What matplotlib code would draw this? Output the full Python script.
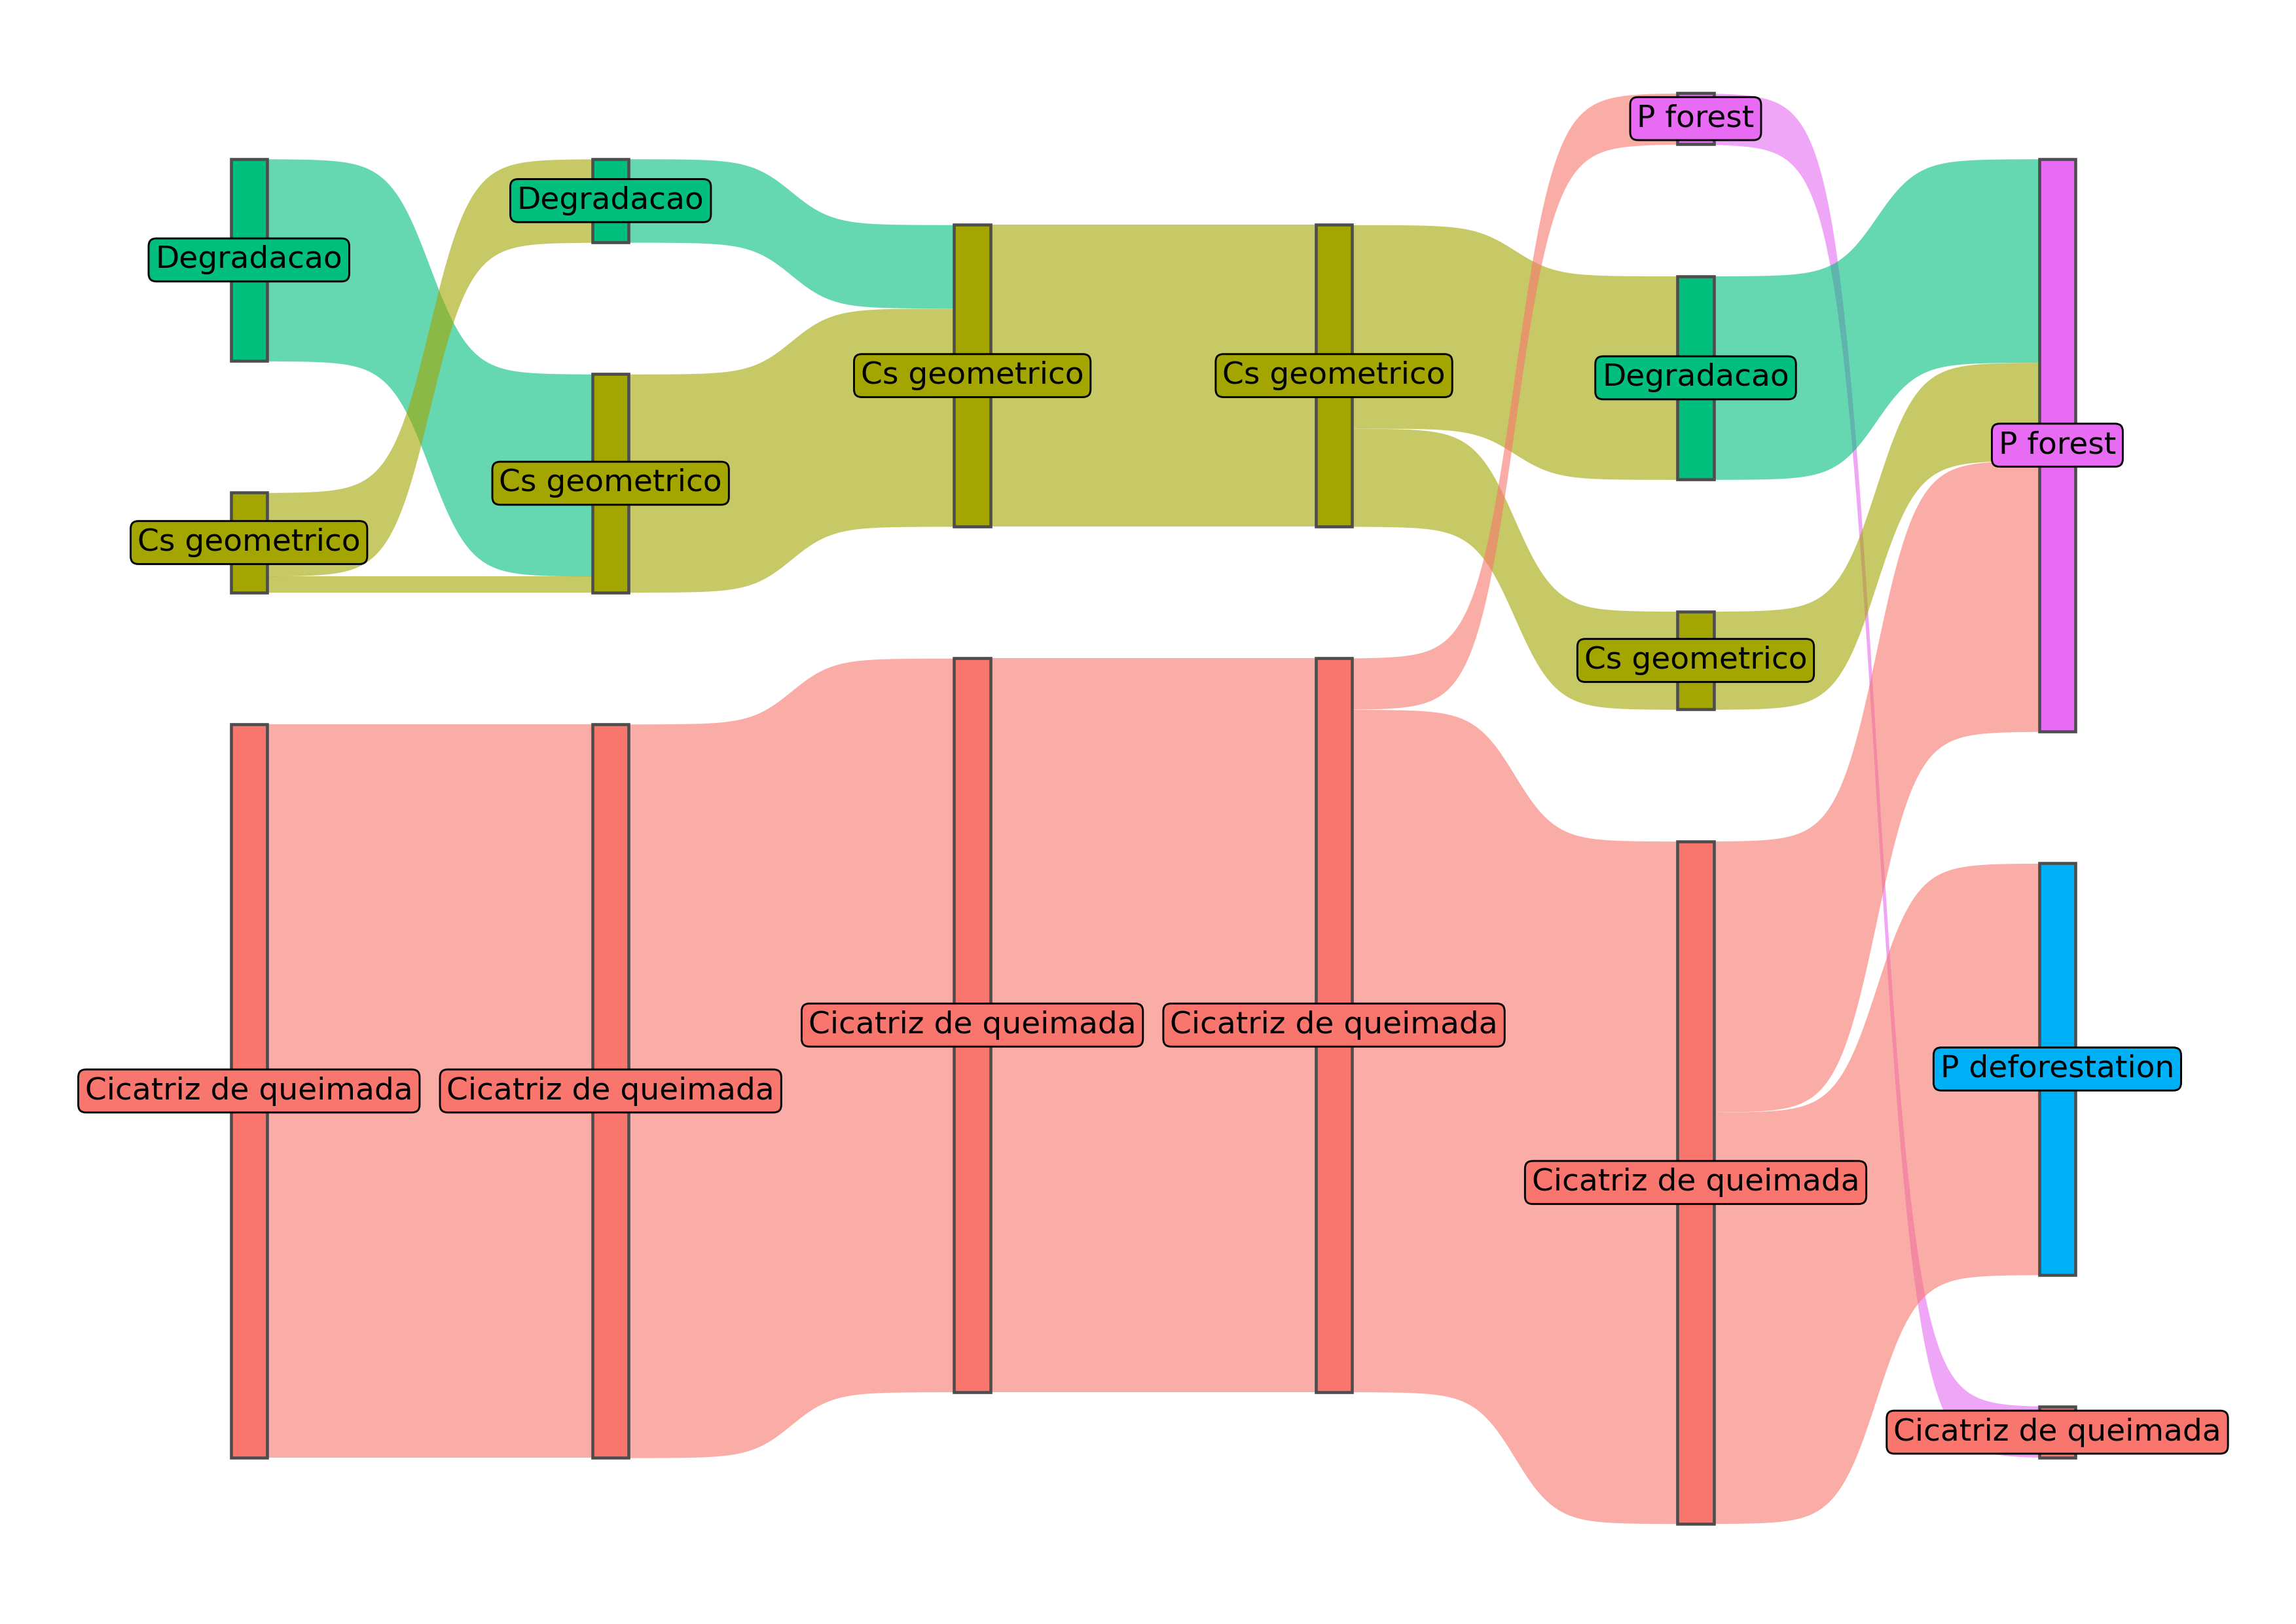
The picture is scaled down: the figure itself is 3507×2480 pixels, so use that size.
import numpy as np
import matplotlib.pyplot as plt

# node order top -> bottom (reverse alphabetical, like ggsankey)
node_names = ['P forest', 'P deforestation', 'Degradacao', 'Cs geometrico', 'Cicatriz de queimada']
node_colors = ['#E76BF3', '#00B0F6', '#00BF7D', '#A3A500', '#F8766D']

# transitions between consecutive steps
flow_step = [1, 1, 1, 1,
             2, 2, 2,
             3, 3,
             4, 4, 4, 4,
             5, 5, 5, 5, 5]
flow_from = ['Degradacao', 'Cs geometrico', 'Cs geometrico', 'Cicatriz de queimada',
             'Degradacao', 'Cs geometrico', 'Cicatriz de queimada',
             'Cs geometrico', 'Cicatriz de queimada',
             'Cs geometrico', 'Cs geometrico', 'Cicatriz de queimada', 'Cicatriz de queimada',
             'P forest', 'Degradacao', 'Cs geometrico', 'Cicatriz de queimada', 'Cicatriz de queimada']
flow_to = ['Cs geometrico', 'Degradacao', 'Cs geometrico', 'Cicatriz de queimada',
           'Cs geometrico', 'Cs geometrico', 'Cicatriz de queimada',
           'Cs geometrico', 'Cicatriz de queimada',
           'Degradacao', 'Cs geometrico', 'P forest', 'Cicatriz de queimada',
           'Cicatriz de queimada', 'P forest', 'P forest', 'P forest', 'P deforestation']
flow_value = [138, 57, 11, 501,
              57, 149, 501,
              206, 501,
              139, 67, 35, 466,
              35, 139, 67, 185, 281]

n_steps = 6
gap = 90          # space between nodes (data units)
node_w = 0.1      # node width (x units)
smooth = 8
flow_alpha = 0.6

color_of = dict(zip(node_names, node_colors))
rank = {n: i for i, n in enumerate(node_names)}

# node sizes per step
node_val = {}
for s, a, b, v in zip(flow_step, flow_from, flow_to, flow_value):
    node_val[(s, a)] = node_val.get((s, a), 0) + v
    if s + 1 == n_steps:
        node_val[(s + 1, b)] = node_val.get((s + 1, b), 0) + v

# node positions, each column centred on 0
node_pos = {}
for s in range(1, n_steps + 1):
    present = [n for n in node_names if (s, n) in node_val]
    total = sum(node_val[(s, n)] for n in present) + gap * (len(present) - 1)
    top = total / 2
    for n in present:
        v = node_val[(s, n)]
        node_pos[(s, n)] = (top, top - v)
        top -= v + gap

# stack flows inside their nodes
idx = range(len(flow_value))
out_cur = {k: p[0] for k, p in node_pos.items()}
in_cur = {k: p[0] for k, p in node_pos.items()}
y_out = {}
y_in = {}
for i in sorted(idx, key=lambda i: (flow_step[i], rank[flow_from[i]], rank[flow_to[i]])):
    k = (flow_step[i], flow_from[i])
    y_out[i] = out_cur[k]
    out_cur[k] -= flow_value[i]
for i in sorted(idx, key=lambda i: (flow_step[i], rank[flow_to[i]], rank[flow_from[i]])):
    k = (flow_step[i] + 1, flow_to[i])
    y_in[i] = in_cur[k]
    in_cur[k] -= flow_value[i]

fig = plt.figure(figsize=(3507 / 300, 2480 / 300), dpi=300)
ax = fig.add_axes([0, 0, 1, 1])

t = np.linspace(-smooth, smooth, 300)
sig = np.exp(t) / (np.exp(t) + 1)

# flows
for i in idx:
    s = flow_step[i]
    x0 = s + node_w / 2
    x1 = s + 1 - node_w / 2
    xs = x0 + (t + smooth) / (2 * smooth) * (x1 - x0)
    top = y_out[i] + sig * (y_in[i] - y_out[i])
    bot = top - flow_value[i]
    ax.fill_between(xs, bot, top, color=color_of[flow_from[i]], alpha=flow_alpha, lw=0, zorder=1)

# nodes
for (s, n), (top, bot) in node_pos.items():
    ax.bar(s, top - bot, bottom=bot, width=node_w, color=color_of[n],
           edgecolor='#4D4D4D', linewidth=1.1, zorder=2)

# labels
for (s, n), (top, bot) in node_pos.items():
    ax.text(s, (top + bot) / 2, n, ha='center', va='center', fontsize=11.3,
            family='DejaVu Sans', color='black', zorder=3,
            bbox=dict(boxstyle='round,pad=0.22,rounding_size=0.25', fc=color_of[n], ec='black', lw=0.7))

ax.set_xlim(1 - 170 / 247, n_steps + 163 / 247)
ax.set_ylim(-557, 552)
ax.axis('off')

fig.savefig('out.png', dpi=300, facecolor='white')
